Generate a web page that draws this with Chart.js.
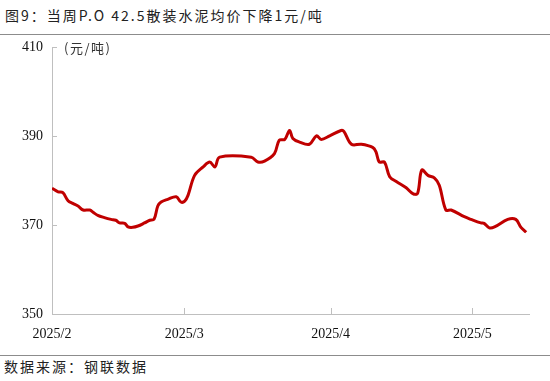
<!DOCTYPE html>
<html>
<head>
<meta charset="utf-8">
<script src="https://cdn.jsdelivr.net/npm/chart.js@4.4.1/dist/chart.umd.min.js"></script>
<style>
  body { margin: 0; width: 550px; height: 381px; background: #fff; position: relative; overflow: hidden; }
  #title { position: absolute; left: 5px; top: 5px; font: 14px "Noto Sans CJK SC"; letter-spacing: 2px; color: #222; white-space: nowrap; }
  .rule { position: absolute; left: 0; width: 550px; height: 1px; background: #8c8c8c; }
  #unit { position: absolute; left: 64px; top: 38px; font: 13px "Noto Sans CJK SC"; color: #333; letter-spacing: 1.5px; }
  #src { position: absolute; left: 4px; top: 356px; font: 14px "Noto Sans CJK SC"; letter-spacing: 2px; color: #222; white-space: nowrap; }
  #box { position: absolute; left: 0; top: 30px; width: 550px; height: 325px; }
</style>
</head>
<body>
<div id="title">图9：当周P.O 42.5散装水泥均价下降1元/吨</div>
<div class="rule" style="top:34px"></div>
<div id="box"><canvas id="c"></canvas></div>
<div id="unit">(元/吨)</div>
<div class="rule" style="top:355px"></div>
<div id="src">数据来源：钢联数据</div>
<script>
// days counted from 2025-02-01
var days = [0, 1.3, 2.3, 3.4, 4.4, 5.5, 6.6, 8, 8.7, 9.7, 11.1, 12.5, 13.5, 14.3, 15.4, 16.1, 17.1, 18.2, 19.6, 20.7,
  21.6, 22.4, 23.1, 24.5, 26.3, 27.3, 28.1, 28.8, 30.2, 32, 33.4, 34.5, 35.5, 42.2, 43.6, 45, 47.1, 48.1, 49.3, 50.3,
  51, 52.4, 54.5, 56, 57, 58.8, 61.2, 61.8, 63.4, 65.5, 67.9, 68.6, 69.3, 70.4, 71.5, 72.9, 75, 76.4, 77.4, 78.3,
  79.6, 81, 82, 83.4, 84.5, 87.3, 88.7, 90.8, 91.5, 92.6, 93.7, 96.5, 98.2, 99.3, 100.4];
var price = [378.3, 377.5, 377.3, 375.5, 374.9, 374.3, 373.4, 373.4, 372.9, 372.2, 371.7, 371.3, 371.1, 370.5, 370.4, 369.6, 369.5, 369.8, 370.5, 371.1,
  371.3, 374.3, 375.2, 375.8, 376.4, 375.2, 375.4, 376.7, 381.2, 383.1, 384.2, 383.1, 385.3, 385.3, 384.2, 384.4, 386.1, 389.1, 389.3, 391.3,
  389.5, 388.7, 388.2, 390.1, 389.3, 390.1, 391.3, 391.1, 388.2, 388.2, 387.5, 386.5, 384.2, 384.2, 380.9, 379.8, 378.4, 377.1, 377.1, 382.4,
  381.2, 380.6, 379, 373.4, 373.4, 371.9, 371.3, 370.5, 370.4, 369.4, 369.6, 371.3, 371.3, 369.5, 368.4];
var monthTicks = [0, 28, 59, 89];
var monthLabels = ['2025/2', '2025/3', '2025/4', '2025/5'];
var yTicks = [350, 370, 390, 410];

var pts = days.map(function (d, i) { return { x: d, y: price[i] }; });

// little tick marks drawn inside the axes
var innerTicks = {
  id: 'innerTicks',
  afterDraw: function (chart) {
    var ctx = chart.ctx, xs = chart.scales.x, ys = chart.scales.y;
    ctx.save();
    ctx.strokeStyle = '#bfbfbf';
    ctx.lineWidth = 1;
    ctx.beginPath();
    monthTicks.slice(1).forEach(function (v) {
      var px = Math.round(xs.getPixelForValue(v)) + 0.5;
      ctx.moveTo(px, ys.bottom);
      ctx.lineTo(px, ys.bottom - 6);
    });
    yTicks.slice(1).forEach(function (v) {
      var py = Math.round(ys.getPixelForValue(v)) + 0.5;
      ctx.moveTo(xs.left, py);
      ctx.lineTo(xs.left + 5, py);
    });
    ctx.stroke();
    ctx.restore();
  }
};

new Chart(document.getElementById('c'), {
  type: 'line',
  data: {
    datasets: [{
      data: pts,
      borderColor: '#c00000',
      borderWidth: 3,
      pointRadius: 0,
      tension: 0.35,
      fill: false
    }]
  },
  options: {
    responsive: true,
    maintainAspectRatio: false,
    animation: false,
    layout: { padding: { top: 7, right: 21, left: 0, bottom: 0 } },
    plugins: { legend: { display: false }, tooltip: { enabled: false } },
    scales: {
      x: {
        type: 'linear',
        min: 0,
        max: 101,
        afterBuildTicks: function (s) { s.ticks = monthTicks.map(function (v) { return { value: v }; }); },
        afterFit: function (s) { s.height = 41; },
        grid: { display: false, drawTicks: false },
        border: { color: '#bfbfbf', width: 1 },
        ticks: {
          padding: 12,
          maxRotation: 0,
          autoSkip: false,
          color: '#111',
          font: { family: 'Liberation Serif', size: 14 },
          callback: function (v) { var i = monthTicks.indexOf(v); return i >= 0 ? monthLabels[i] : ''; }
        }
      },
      y: {
        min: 350,
        max: 410,
        afterBuildTicks: function (s) { s.ticks = yTicks.map(function (v) { return { value: v }; }); },
        afterFit: function (s) { s.width = 52; },
        grid: { display: false, drawTicks: false },
        border: { color: '#bfbfbf', width: 1 },
        ticks: {
          padding: 9,
          color: '#111',
          font: { family: 'Liberation Serif', size: 14 }
        }
      }
    }
  },
  plugins: [innerTicks]
});
</script>
</body>
</html>
